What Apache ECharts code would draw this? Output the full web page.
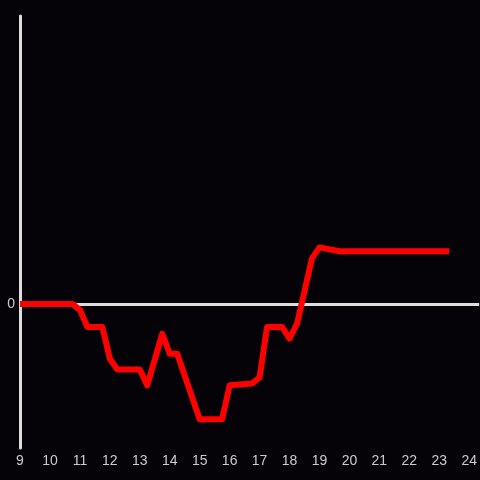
<!DOCTYPE html>
<html>
<head>
<meta charset="utf-8">
<style>
  html, body { margin: 0; padding: 0; background: #050308; }
  #chart { width: 480px; height: 480px; }
</style>
<script src="https://cdn.jsdelivr.net/npm/echarts@6/dist/echarts.min.js"></script>
</head>
<body>
<div id="chart"></div>
<script>
// hour of day
const hours = [9, 10.75, 11, 11.25, 11.75, 12, 12.25, 13, 13.25, 13.75, 14, 14.25, 15, 15.75,
  16, 16.75, 17, 17.25, 17.75, 18, 18.25, 18.75, 19, 19.67, 23.33];
const values = [0, 0, -0.04, -0.16, -0.16, -0.38, -0.455, -0.455, -0.565, -0.207, -0.345, -0.345,
  -0.8, -0.8, -0.565, -0.552, -0.51, -0.159, -0.159, -0.24, -0.138, 0.317, 0.393, 0.366, 0.366];

const chart = echarts.init(document.getElementById('chart'));

const option = {
  backgroundColor: '#050308',
  animation: false,
  textStyle: { fontFamily: 'Liberation Sans' },
  grid: { left: 20, right: 0, top: 16, bottom: 32 },
  xAxis: {
    type: 'value',
    min: 9,
    max: 24.333,
    interval: 1,
    axisLine: { show: false },
    axisTick: { show: false },
    splitLine: { show: false },
    axisLabel: {
      color: '#cccccc',
      fontSize: 14,
      margin: 6,
      showMaxLabel: false,
      formatter: v => Number.isInteger(v) ? String(v) : ''
    }
  },
  yAxis: {
    type: 'value',
    min: -1,
    max: 2,
    interval: 1,
    axisLine: { show: true, onZero: false, lineStyle: { color: '#dddddd', width: 3 } },
    axisTick: { show: false },
    axisLabel: {
      color: '#cccccc',
      fontSize: 14,
      margin: 5,
      formatter: v => v === 0 ? '0' : ''
    },
    splitLine: {
      show: true,
      lineStyle: {
        color: ['rgba(0,0,0,0)', '#dddddd', 'rgba(0,0,0,0)', 'rgba(0,0,0,0)'],
        width: 3
      }
    }
  },
  series: [
    {
      type: 'line',
      data: hours.map((h, i) => [h, values[i]]),
      symbol: 'none',
      lineStyle: { color: '#ff0000', width: 6, join: 'round' }
    }
  ]
};

chart.setOption(option);
</script>
</body>
</html>
